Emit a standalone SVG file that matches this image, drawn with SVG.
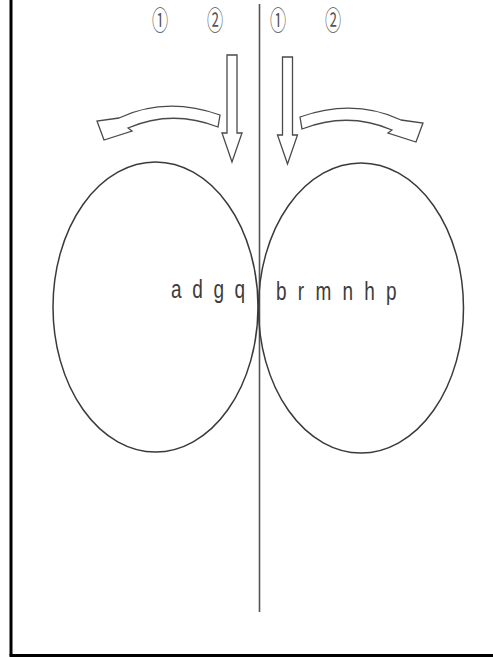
<svg xmlns="http://www.w3.org/2000/svg" width="493" height="657" viewBox="0 0 493 657">
  <style>
    .ring { fill: none; stroke: #3a3a3a; stroke-width: 1.5; }
    .block { fill: #ffffff; stroke: #4a4a4a; stroke-width: 1.3; stroke-linejoin: miter; }
    .lbl { font-family: "Liberation Sans", Arial, sans-serif; font-size: 25px; fill: #3c3c3c; }
    .num { font-family: "Noto Sans CJK JP", "DejaVu Sans", sans-serif; font-size: 26px; fill: #555555; text-anchor: middle; }
    .frame { stroke: #000000; stroke-width: 3; fill: none; }
  </style>
  <defs>
    <path id="curl" d="M220,115 Q166,96 119,118 L97,121 L104,140 L132,131 L128,128 Q172,109 218,127 Z"/>
    <polygon id="down" points="-5,0 5,0 5,78 10,78 0,107 -10,78 -5,78"/>
  </defs>
  <rect width="493" height="657" fill="#ffffff"/>
  <g id="frame">
    <line class="frame" x1="11" y1="0" x2="11" y2="655.5"/>
    <line class="frame" x1="9.5" y1="655.5" x2="493" y2="655.5"/>
  </g>
  <g id="connectors">
    <line x1="259.5" y1="4" x2="259.5" y2="612" stroke="#555555" stroke-width="1.6"/>
  </g>
  <g id="left-roll">
    <ellipse class="ring" cx="155.5" cy="307" rx="102.5" ry="145"/>
    <text class="lbl" transform="translate(171,298) scale(0.76,1)" letter-spacing="14">adgq</text>
  </g>
  <g id="right-roll">
    <ellipse class="ring" cx="361" cy="308" rx="102.5" ry="145"/>
    <text class="lbl" transform="translate(276,300) scale(0.76,1)" letter-spacing="14.8">brmnhp</text>
  </g>
  <g id="left-arrows">
    <use href="#curl" class="block"/>
    <use href="#down" class="block" transform="translate(232,55)"/>
    <text class="num" transform="translate(160,30) scale(0.62,1)">①</text>
    <text class="num" transform="translate(215,30) scale(0.62,1)">②</text>
  </g>
  <g id="right-arrows">
    <use href="#curl" class="block" transform="translate(520,2) scale(-1,1)"/>
    <use href="#down" class="block" transform="translate(287.5,57)"/>
    <text class="num" transform="translate(278,30) scale(0.62,1)">①</text>
    <text class="num" transform="translate(333,30) scale(0.62,1)">②</text>
  </g>
</svg>
